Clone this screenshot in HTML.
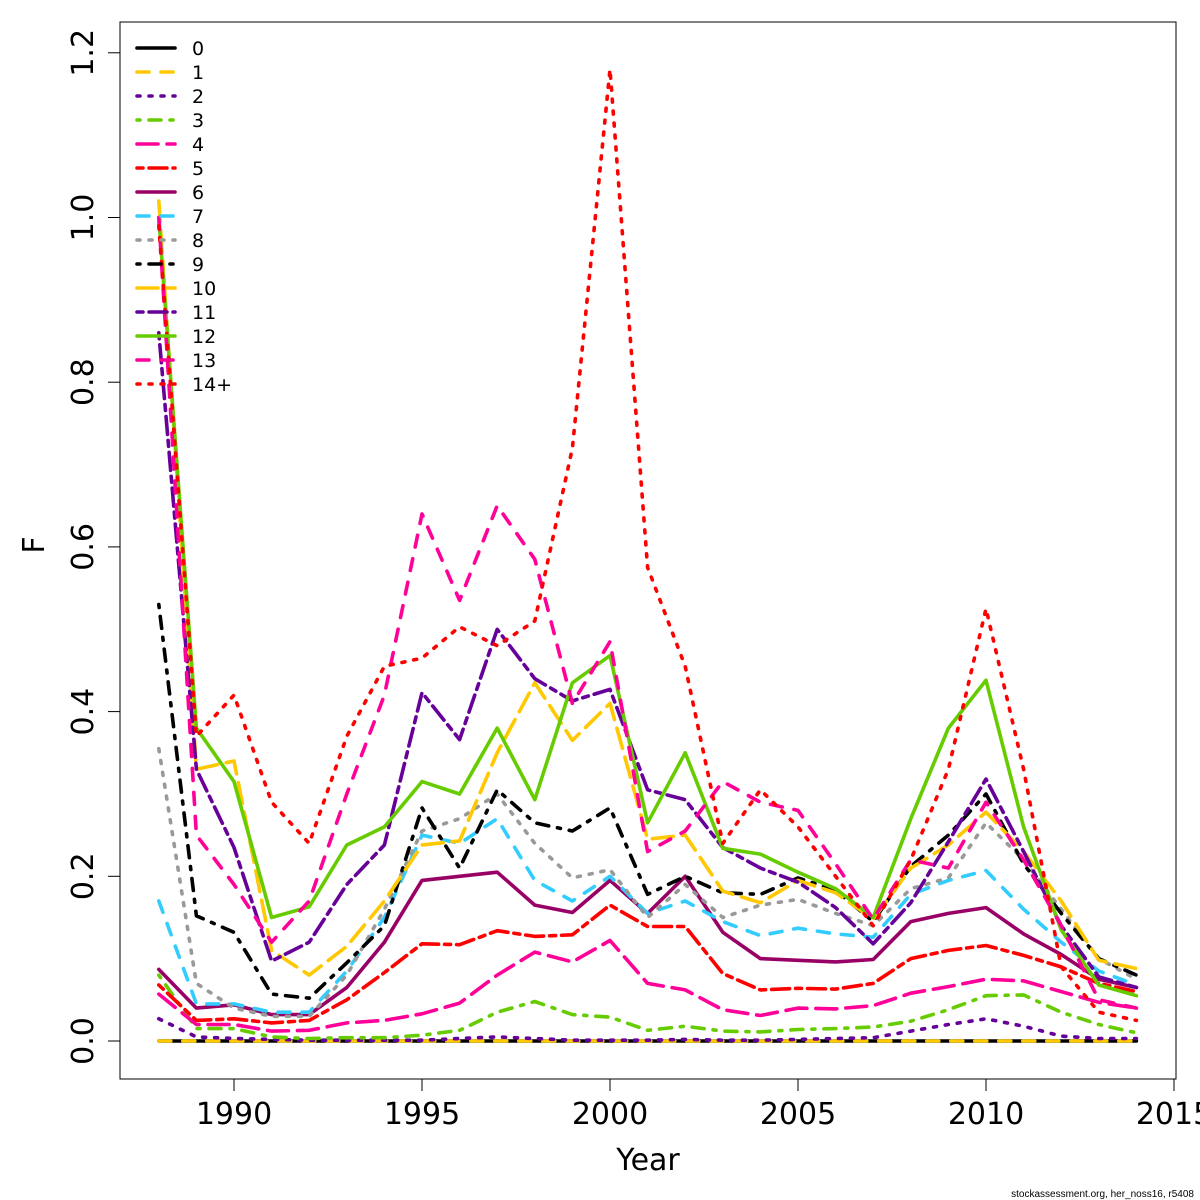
<!DOCTYPE html>
<html><head><meta charset="utf-8"><style>
body{margin:0;background:#fff;}
svg{display:block;font-family:"DejaVu Sans","Liberation Sans",sans-serif;}
</style></head><body>
<svg id="chart" width="1200" height="1200" viewBox="0 0 1200 1200" xmlns="http://www.w3.org/2000/svg">
<rect x="120" y="22" width="1056" height="1057" fill="none" stroke="#000" stroke-width="1"/>
<g id="axes"></g>
<g id="series"></g>
<g id="legend"></g>
<text x="648" y="1170" font-size="30" text-anchor="middle">Year</text>
<text x="0" y="0" font-size="30" text-anchor="middle" transform="translate(44,545) rotate(-90)">F</text>
<text x="1194" y="1197" font-size="10" text-anchor="end" font-family="Liberation Sans, sans-serif">stockassessment.org, her_noss16, r5408</text>
</svg>
<script>
const years = [1988,1989,1990,1991,1992,1993,1994,1995,1996,1997,1998,1999,2000,2001,2002,2003,2004,2005,2006,2007,2008,2009,2010,2011,2012,2013,2014];
const xTicks = [1990,1995,2000,2005,2010,2015];
const yTicks = [0,0.2,0.4,0.6,0.8,1.0,1.2];
const labels = ["0","1","2","3","4","5","6","7","8","9","10","11","12","13","14+"];
const s0 = [0,0,0,0,0,0,0,0,0,0,0,0,0,0,0,0,0,0,0,0,0,0,0,0,0,0,0];
const s1 = [0,0,0,0,0,0,0,0,0,0,0,0,0,0,0,0,0,0,0,0,0,0,0,0,0,0,0];
const s2 = [0.027,0.005,0.003,0.002,0.001,0.001,0.001,0.001,0.003,0.005,0.003,0.001,0.001,0.001,0.002,0.001,0.001,0.002,0.003,0.004,0.012,0.02,0.027,0.018,0.006,0.003,0.003];
const s3 = [0.08,0.015,0.015,0.005,0.003,0.004,0.004,0.007,0.013,0.035,0.048,0.032,0.029,0.013,0.018,0.012,0.011,0.014,0.015,0.017,0.024,0.038,0.055,0.056,0.035,0.02,0.01];
const s4 = [0.057,0.02,0.02,0.012,0.013,0.022,0.025,0.033,0.046,0.08,0.108,0.096,0.122,0.07,0.062,0.038,0.031,0.04,0.039,0.043,0.058,0.066,0.075,0.073,0.06,0.047,0.04];
const s5 = [0.068,0.025,0.027,0.022,0.025,0.05,0.083,0.118,0.117,0.134,0.127,0.129,0.165,0.139,0.139,0.082,0.062,0.064,0.063,0.07,0.1,0.11,0.116,0.104,0.09,0.07,0.06];
const s6 = [0.087,0.04,0.044,0.032,0.032,0.065,0.12,0.195,0.2,0.205,0.165,0.156,0.195,0.155,0.2,0.132,0.1,0.098,0.096,0.099,0.145,0.155,0.162,0.13,0.105,0.075,0.065];
const s7 = [0.17,0.045,0.045,0.035,0.035,0.085,0.15,0.25,0.24,0.27,0.195,0.17,0.2,0.155,0.17,0.145,0.128,0.137,0.13,0.126,0.178,0.195,0.207,0.16,0.12,0.085,0.068];
const s8 = [0.355,0.07,0.04,0.03,0.03,0.08,0.16,0.255,0.27,0.3,0.24,0.198,0.208,0.15,0.19,0.15,0.165,0.172,0.155,0.14,0.185,0.198,0.265,0.22,0.16,0.1,0.075];
const s9 = [0.53,0.152,0.132,0.057,0.052,0.095,0.14,0.283,0.21,0.305,0.265,0.255,0.283,0.178,0.2,0.18,0.178,0.198,0.183,0.145,0.212,0.25,0.3,0.215,0.155,0.1,0.08];
const s10 = [1.02,0.33,0.34,0.11,0.08,0.115,0.17,0.238,0.243,0.35,0.435,0.365,0.41,0.245,0.25,0.182,0.168,0.195,0.18,0.148,0.21,0.238,0.278,0.23,0.17,0.098,0.088];
const s11 = [0.86,0.33,0.235,0.097,0.12,0.19,0.238,0.423,0.366,0.5,0.44,0.413,0.427,0.305,0.293,0.235,0.21,0.193,0.162,0.118,0.168,0.242,0.318,0.23,0.14,0.078,0.065];
const s12 = [1.0,0.38,0.315,0.15,0.163,0.238,0.26,0.315,0.3,0.38,0.293,0.435,0.468,0.265,0.35,0.234,0.227,0.205,0.185,0.15,0.27,0.38,0.438,0.26,0.135,0.068,0.055];
const s13 = [1.0,0.25,0.19,0.12,0.17,0.3,0.42,0.64,0.535,0.65,0.585,0.41,0.485,0.23,0.255,0.315,0.29,0.28,0.215,0.148,0.22,0.21,0.29,0.22,0.14,0.05,0.04];
const s14 = [0.99,0.37,0.42,0.29,0.24,0.37,0.455,0.465,0.503,0.48,0.51,0.72,1.18,0.575,0.455,0.24,0.305,0.26,0.2,0.14,0.22,0.33,0.525,0.33,0.09,0.035,0.025];
const seriesData = [s0,s1,s2,s3,s4,s5,s6,s7,s8,s9,s10,s11,s12,s13,s14];

const colors = ["#000000","#FFC800","#660099","#66CC00","#FF0099","#FF0000","#990066","#33CCFF","#999999"];
const dashes = ["", "12 12", "3 9", "3 9 12 9", "21 9", "6 6 18 6"];
const NS = "http://www.w3.org/2000/svg";
function xs(v){return 234 + (v-1990)*37.6;}
function ys(v){return 1041 - v*823.5;}
function mk(tag, attrs, parent){const e=document.createElementNS(NS,tag);for(const k in attrs)e.setAttribute(k,attrs[k]);parent.appendChild(e);return e;}

const axes = document.getElementById("axes");
mk("line",{x1:xs(1990),x2:xs(2015),y1:1079,y2:1079,stroke:"#000"},axes);
xTicks.forEach(t=>{
  const l=mk("line",{x1:xs(t),x2:xs(t),y1:1079,y2:1091,stroke:"#000"},axes);
  
  
  const tx=mk("text",{x:xs(t),y:1124,"font-size":30,"text-anchor":"middle"},axes);
  tx.textContent=t;
  
  
});
mk("line",{x1:120,x2:120,y1:ys(0),y2:ys(1.2),stroke:"#000"},axes);
yTicks.forEach(t=>{
  const l=mk("line",{x1:108,x2:120,y1:ys(t),y2:ys(t),stroke:"#000"},axes);
  
  
  const tx=mk("text",{x:0,y:0,"font-size":30,"text-anchor":"middle",transform:`translate(93,${ys(t)}) rotate(-90)`},axes);
  tx.textContent=t.toFixed(1);
  
  
});

const sg = document.getElementById("series");
const lg = document.getElementById("legend");
seriesData.forEach((d,i)=>{
  const col=colors[i%colors.length], da=dashes[i%dashes.length];
  const pts=d.map((v,j)=>xs(years[j]).toFixed(1)+","+ys(v).toFixed(1)).join(" ");
  const p=mk("polyline",{points:pts,fill:"none",stroke:col,"stroke-width":3.6,"stroke-dasharray":da,"stroke-linecap":"round","stroke-linejoin":"round"},sg);
  
  
  const y=48+i*24;
  const l=mk("line",{x1:137,x2:175,y1:y,y2:y,stroke:col,"stroke-width":3.6,"stroke-dasharray":da,"stroke-linecap":"round"},lg);
  
  
  const tx=mk("text",{x:192,y:y+7,"font-size":19},lg);
  tx.textContent=labels[i];
  
  
});
</script>
</body></html>
